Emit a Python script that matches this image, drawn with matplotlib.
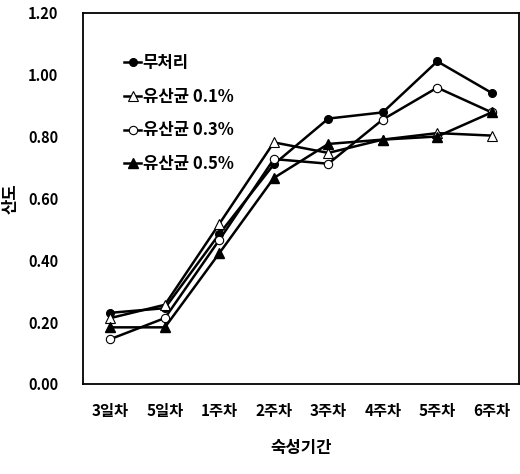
import matplotlib
matplotlib.use("Agg")
import matplotlib.pyplot as plt
import numpy as np

plt.rcParams['font.family'] = ['Noto Sans CJK KR', 'DejaVu Sans']

# 숙성기간 (ripening period)
periods = ['3일차', '5일차', '1주차', '2주차', '3주차', '4주차', '5주차', '6주차']

# 산도 values
control = [0.23, 0.245, 0.485, 0.71, 0.858, 0.878, 1.043, 0.941]
lab_01 = [0.213, 0.256, 0.518, 0.781, 0.747, 0.79, 0.811, 0.803]
lab_03 = [0.145, 0.213, 0.466, 0.727, 0.712, 0.855, 0.958, 0.878]
lab_05 = [0.183, 0.183, 0.423, 0.666, 0.776, 0.79, 0.80, 0.878]

series_names = ['무처리', '유산균 0.1%', '유산균 0.3%', '유산균 0.5%']

fig = plt.figure(figsize=(5.2, 4.74), dpi=100)
ax = fig.add_axes([0.16, 0.19, 0.838, 0.783])

x = np.arange(len(periods))
ax.plot(x, control, color='black', lw=1.8, marker='o', ms=5.5,
        mfc='black', mec='black', label=series_names[0])
ax.plot(x, lab_01, color='black', lw=1.8, marker='^', ms=7,
        mfc='white', mec='black', mew=0.8, label=series_names[1])
ax.plot(x, lab_03, color='black', lw=1.8, marker='o', ms=6,
        mfc='white', mec='black', mew=0.8, label=series_names[2])
ax.plot(x, lab_05, color='black', lw=1.8, marker='^', ms=7,
        mfc='black', mec='black', label=series_names[3])

ax.set_xlim(-0.5, len(periods) - 0.5)
ax.set_ylim(0, 1.2)
ax.set_xticks(x)
ax.set_xticklabels(periods, fontsize=11, fontweight='bold')
ax.set_yticks(np.arange(0, 1.21, 0.2))
ax.set_yticklabels(['%.2f' % v for v in np.arange(0, 1.21, 0.2)],
                   fontsize=10.5, fontweight='bold')
ax.tick_params(length=0, pad=14)
ax.tick_params(axis='y', pad=18)
for sp in ax.spines.values():
    sp.set_linewidth(1.3)

ax.set_xlabel('숙성기간', fontsize=12, fontweight='bold', labelpad=14)
ax.set_ylabel('산도', fontsize=12, fontweight='bold')
ax.yaxis.set_label_coords(-0.145, 0.5)

leg = ax.legend(loc='upper left', bbox_to_anchor=(0.06, 0.93), frameon=False,
                handlelength=1.0, handletextpad=0.1, labelspacing=0.95,
                prop={'size': 12, 'weight': 'bold',
                      'family': ['Noto Sans CJK KR', 'DejaVu Sans']})

fig.savefig('out.png', dpi=100)
